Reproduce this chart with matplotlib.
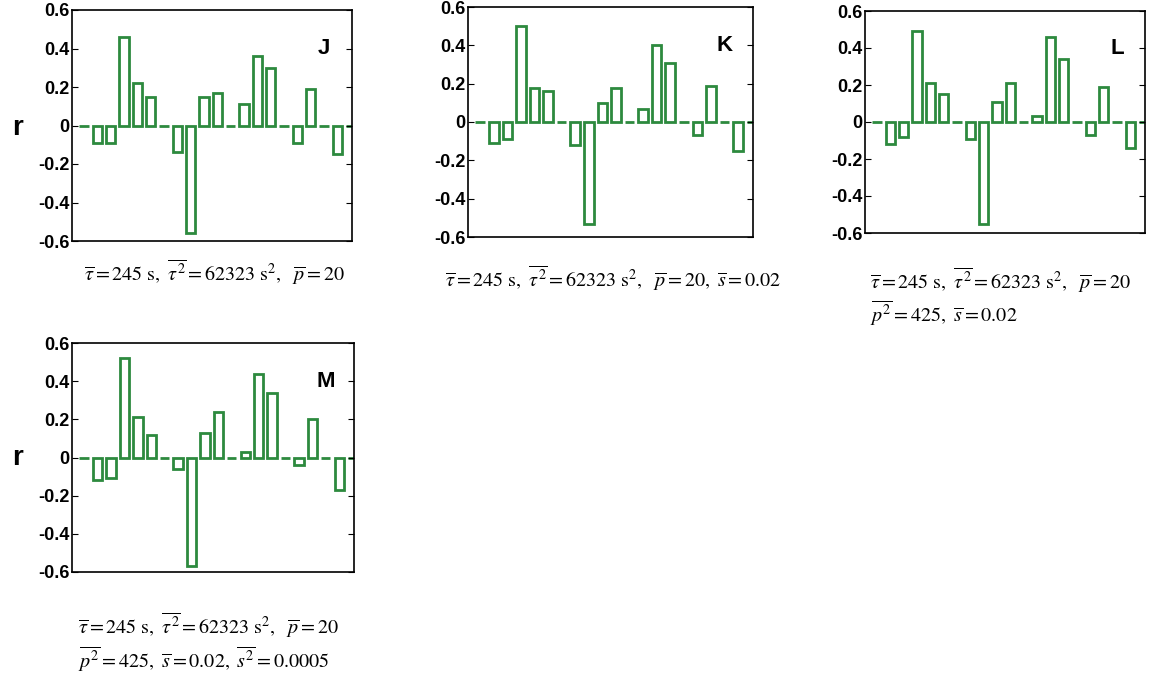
import matplotlib
matplotlib.use('Agg')
import matplotlib.pyplot as plt
import numpy as np

# correlation values per lag slot (21 slots, zeros drawn as flat bars)
r_J = [0, -0.09, -0.09, 0.46, 0.22, 0.15, 0, -0.14, -0.56, 0.15, 0.17, 0,
       0.11, 0.36, 0.30, 0, -0.09, 0.19, 0, -0.15, 0]
r_K = [0, -0.11, -0.09, 0.50, 0.18, 0.16, 0, -0.12, -0.53, 0.10, 0.18, 0,
       0.07, 0.40, 0.31, 0, -0.07, 0.19, 0, -0.15, 0]
r_L = [0, -0.12, -0.08, 0.49, 0.21, 0.15, 0, -0.09, -0.55, 0.11, 0.21, 0,
       0.03, 0.46, 0.34, 0, -0.07, 0.19, 0, -0.14, 0]
r_M = [0, -0.12, -0.11, 0.52, 0.21, 0.12, 0, -0.06, -0.57, 0.13, 0.24, 0,
       0.03, 0.44, 0.34, 0, -0.04, 0.20, 0, -0.17, 0]

yticks = [-0.6, -0.4, -0.2, 0, 0.2, 0.4, 0.6]
ytick_labels = ['-0.6', '-0.4', '-0.2', '0', '0.2', '0.4', '0.6']

line1 = (r'$\overline{\tau} = 245\ \mathrm{s},\ \overline{\tau^2} = 62323\ \mathrm{s}^2,'
         r'\ \ \overline{p} = 20$')
cap_J = line1
cap_K = (r'$\overline{\tau} = 245\ \mathrm{s},\ \overline{\tau^2} = 62323\ \mathrm{s}^2,'
         r'\ \ \overline{p} = 20,\ \overline{s} = 0.02$')
cap_L2 = r'$\overline{p^2} = 425,\ \overline{s} = 0.02$'
cap_M2 = r'$\overline{p^2} = 425,\ \overline{s} = 0.02,\ \overline{s^2} = 0.0005$'

GREEN = '#2d8a3e'
W, H = 1149, 676

plt.rcParams['font.family'] = ['Liberation Sans', 'DejaVu Sans']
plt.rcParams['mathtext.fontset'] = 'stix'

fig = plt.figure(figsize=(W / 100, H / 100), dpi=100)


def make_panel(x0, y0, x1, y1, vals, letter):
    ax = fig.add_axes([x0 / W, 1 - y1 / H, (x1 - x0) / W, (y1 - y0) / H])
    x = np.arange(len(vals))
    ax.bar(x, vals, width=0.7, fill=False, edgecolor=GREEN, linewidth=2)
    ax.set_xlim(-0.9, 20.1)
    ax.set_ylim(-0.6, 0.6)
    ax.set_yticks(yticks)
    ax.set_yticklabels(ytick_labels, fontsize=13, fontweight='bold')
    ax.tick_params(axis='y', direction='in', left=True, right=True, length=4, pad=2)
    ax.tick_params(axis='x', bottom=False, labelbottom=False)
    for s in ax.spines.values():
        s.set_linewidth(1.2)
    ax.text(0.9, 0.4, letter, transform=ax.get_yaxis_transform(), ha='center', va='center',
            fontsize=16, fontweight='bold')
    return ax


make_panel(72, 10, 352, 241, r_J, 'J')
make_panel(468, 7, 753, 237, r_K, 'K')
make_panel(865, 11, 1145, 233, r_L, 'L')
make_panel(72, 343, 354, 572, r_M, 'M')

fig.text(18 / W, 1 - 128 / H, 'r', fontsize=20, fontweight='bold', ha='center', va='center')
fig.text(18 / W, 1 - 458 / H, 'r', fontsize=20, fontweight='bold', ha='center', va='center')

fig.text(214 / W, 1 - 272 / H, cap_J, fontsize=14.5, ha='center', va='center')
fig.text(613 / W, 1 - 278 / H, cap_K, fontsize=14.5, ha='center', va='center')
fig.text(870 / W, 1 - 280 / H, line1, fontsize=14.5, ha='left', va='center')
fig.text(870 / W, 1 - 313 / H, cap_L2, fontsize=14.5, ha='left', va='center')
fig.text(78 / W, 1 - 625 / H, line1, fontsize=14.5, ha='left', va='center')
fig.text(78 / W, 1 - 659 / H, cap_M2, fontsize=14.5, ha='left', va='center')

fig.savefig('out.png', dpi=100)
